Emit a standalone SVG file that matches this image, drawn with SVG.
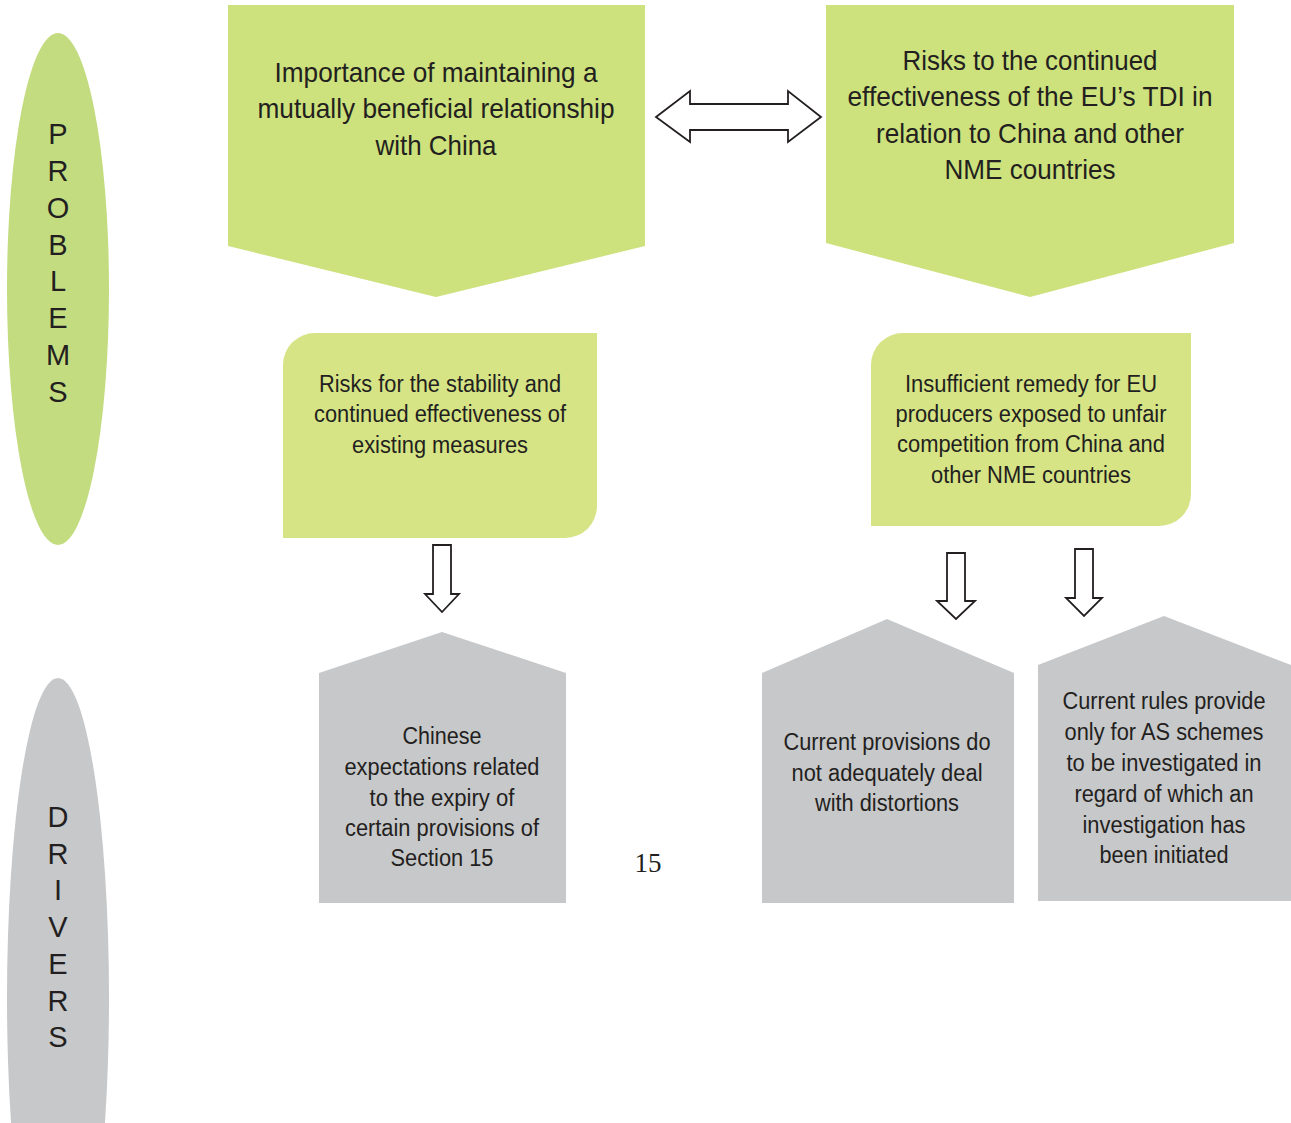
<svg xmlns="http://www.w3.org/2000/svg" width="1291" height="1123" viewBox="0 0 1291 1123">
<style>
.t{font-family:"Liberation Sans Narrow","Liberation Sans",Arial,sans-serif;fill:#231f20;text-anchor:middle}
.big{font-size:28px}
.mid{font-size:23.5px}
.let{font-family:"Liberation Sans",Arial,sans-serif;font-size:29px;fill:#231f20;text-anchor:middle}
.chev{fill:#cde17c}
.rr{fill:#d6e486}
.gray{fill:#c7c8ca}
.arr{fill:#fff;stroke:#231f20;stroke-width:1.8;stroke-linejoin:miter}
</style>
<rect width="1291" height="1123" fill="#fff"/>

<g id="problems-label">
<ellipse cx="58" cy="289" rx="51" ry="256" fill="#c3dc80"/>
<text class="let" x="58" y="144">P</text>
<text class="let" x="58" y="181">R</text>
<text class="let" x="58" y="218">O</text>
<text class="let" x="58" y="255">B</text>
<text class="let" x="58" y="291">L</text>
<text class="let" x="58" y="328">E</text>
<text class="let" x="58" y="365">M</text>
<text class="let" x="58" y="402">S</text>
</g>

<g id="drivers-label">
<ellipse cx="58" cy="998" rx="51" ry="320" fill="#c7c8ca"/>
<text class="let" x="58" y="827">D</text>
<text class="let" x="58" y="864">R</text>
<text class="let" x="58" y="900">I</text>
<text class="let" x="58" y="937">V</text>
<text class="let" x="58" y="974">E</text>
<text class="let" x="58" y="1011">R</text>
<text class="let" x="58" y="1047">S</text>
</g>

<g id="problem-china">
<path class="chev" d="M228,5 H645 V246 L436,297 L228,246 Z"/>
<text class="t big" x="436" y="82" textLength="323" lengthAdjust="spacingAndGlyphs">Importance of maintaining a</text>
<text class="t big" x="436" y="118" textLength="357" lengthAdjust="spacingAndGlyphs">mutually beneficial relationship</text>
<text class="t big" x="436" y="155" textLength="121" lengthAdjust="spacingAndGlyphs">with China</text>
</g>

<g id="problem-tdi">
<path class="chev" d="M826,5 H1234 V243 L1030,297 L826,243 Z"/>
<text class="t big" x="1030" y="70" textLength="255" lengthAdjust="spacingAndGlyphs">Risks to the continued</text>
<text class="t big" x="1030" y="106" textLength="365" lengthAdjust="spacingAndGlyphs">effectiveness of the EU’s TDI in</text>
<text class="t big" x="1030" y="143" textLength="308" lengthAdjust="spacingAndGlyphs">relation to China and other</text>
<text class="t big" x="1030" y="179" textLength="171" lengthAdjust="spacingAndGlyphs">NME countries</text>
</g>

<g id="problem-stability">
<path class="rr" d="M283,365 A32,32 0 0 1 315,333 H597 V506 A32,32 0 0 1 565,538 H283 Z"/>
<text class="t mid" x="440" y="392" textLength="242" lengthAdjust="spacingAndGlyphs">Risks for the stability and</text>
<text class="t mid" x="440" y="422" textLength="252" lengthAdjust="spacingAndGlyphs">continued effectiveness of</text>
<text class="t mid" x="440" y="453" textLength="176" lengthAdjust="spacingAndGlyphs">existing measures</text>
</g>

<g id="problem-remedy">
<path class="rr" d="M871,365 A32,32 0 0 1 903,333 H1191 V494 A32,32 0 0 1 1159,526 H871 Z"/>
<text class="t mid" x="1031" y="392" textLength="252" lengthAdjust="spacingAndGlyphs">Insufficient remedy for EU</text>
<text class="t mid" x="1031" y="422" textLength="271" lengthAdjust="spacingAndGlyphs">producers exposed to unfair</text>
<text class="t mid" x="1031" y="452" textLength="268" lengthAdjust="spacingAndGlyphs">competition from China and</text>
<text class="t mid" x="1031" y="483" textLength="200" lengthAdjust="spacingAndGlyphs">other NME countries</text>
</g>

<g id="driver-section15">
<path class="gray" d="M319,673 L442,632 L566,673 V903 H319 Z"/>
<text class="t mid" x="442" y="744" textLength="79" lengthAdjust="spacingAndGlyphs">Chinese</text>
<text class="t mid" x="442" y="775" textLength="195" lengthAdjust="spacingAndGlyphs">expectations related</text>
<text class="t mid" x="442" y="806" textLength="145" lengthAdjust="spacingAndGlyphs">to the expiry of</text>
<text class="t mid" x="442" y="836" textLength="194" lengthAdjust="spacingAndGlyphs">certain provisions of</text>
<text class="t mid" x="442" y="866" textLength="103" lengthAdjust="spacingAndGlyphs">Section 15</text>
</g>

<g id="driver-distortions">
<path class="gray" d="M762,673 L887,619 L1014,673 V903 H762 Z"/>
<text class="t mid" x="887" y="750" textLength="207" lengthAdjust="spacingAndGlyphs">Current provisions do</text>
<text class="t mid" x="887" y="781" textLength="191" lengthAdjust="spacingAndGlyphs">not adequately deal</text>
<text class="t mid" x="887" y="811" textLength="144" lengthAdjust="spacingAndGlyphs">with distortions</text>
</g>

<g id="driver-as-schemes">
<path class="gray" d="M1038,665 L1164,616 L1291,665 V901 H1038 Z"/>
<text class="t mid" x="1164" y="709" textLength="203" lengthAdjust="spacingAndGlyphs">Current rules provide</text>
<text class="t mid" x="1164" y="740" textLength="199" lengthAdjust="spacingAndGlyphs">only for AS schemes</text>
<text class="t mid" x="1164" y="771" textLength="195" lengthAdjust="spacingAndGlyphs">to be investigated in</text>
<text class="t mid" x="1164" y="802" textLength="179" lengthAdjust="spacingAndGlyphs">regard of which an</text>
<text class="t mid" x="1164" y="833" textLength="163" lengthAdjust="spacingAndGlyphs">investigation has</text>
<text class="t mid" x="1164" y="863" textLength="129" lengthAdjust="spacingAndGlyphs">been initiated</text>
</g>

<g id="connectors">
<path class="arr" d="M656,117 L690,91 V104 H788 V91 L821,117 L788,142 V130 H690 V142 Z"/>
<path class="arr" d="M433,545 H451 V594 H459 L442,612 L425,594 H433 Z"/>
<path class="arr" d="M947,553 H965 V601 H975 L956,619 L937,601 H947 Z"/>
<path class="arr" d="M1075,549 H1093 V598 H1102 L1084,616 L1066,598 H1075 Z"/>
</g>

<text x="648" y="872" font-family="'Liberation Serif','Times New Roman',serif" font-size="27" fill="#231f20" text-anchor="middle">15</text>
</svg>
